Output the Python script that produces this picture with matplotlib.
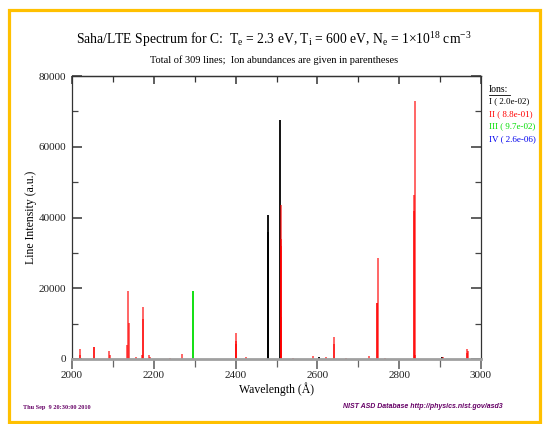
import matplotlib.pyplot as plt
import numpy as np
from matplotlib.lines import Line2D
from matplotlib.patches import Rectangle
from matplotlib.ticker import MultipleLocator

plt.rcParams["font.family"] = ["Liberation Serif", "DejaVu Serif"]
plt.rcParams["mathtext.fontset"] = "custom"
plt.rcParams["mathtext.rm"] = "Liberation Serif"
plt.rcParams["mathtext.it"] = "Liberation Serif:italic"

# line list: wavelength (A), intensity (a.u.), ion stage
wavelengths = [
    2018.5, 2019.4, 2053.5, 2054.2, 2091.0, 2092.0, 2135.2, 2137.5, 2138.3,
    2156.0, 2172.0, 2173.5, 2174.2, 2189.0, 2191.0, 2240.0, 2270.0, 2296.9,
    2400.2, 2401.2, 2402.0, 2425.0, 2478.3, 2478.6, 2509.1, 2509.9, 2510.4,
    2511.4, 2512.1, 2539.6, 2590.0, 2604.0, 2620.0, 2640.3, 2640.9, 2670.0,
    2727.0, 2745.9, 2746.5, 2747.3, 2765.0, 2836.0, 2836.7, 2837.6, 2838.8,
    2904.0, 2908.0, 2965.3, 2966.5, 2967.5,
]
intensities = [
    1200, 2900, 3300, 3300, 2350, 1200, 4000, 19200, 10200,
    600, 1000, 14800, 11300, 1100, 600, 300, 1300, 19200,
    4200, 7400, 5000, 600, 35900, 40700, 67600, 32000, 12000,
    34000, 43500, 400, 850, 500, 650, 6200, 4200, 300,
    850, 15900, 15900, 28500, 400, 41700, 46400, 72900, 1200,
    500, 700, 1700, 2900, 2300,
]
ions = [
    "II", "II", "II", "II", "II", "II", "II", "II", "II",
    "II", "II", "II", "II", "II", "II", "II", "II", "III",
    "II", "II", "II", "II", "I", "I", "I", "II", "II",
    "II", "II", "II", "II", "I", "II", "II", "II", "II",
    "II", "II", "II", "II", "II", "II", "II", "II", "II",
    "I", "II", "II", "II", "II",
]

ion_names = ["I", "II", "III", "IV"]
abundances = ["2.0e-02", "8.8e-01", "9.7e-02", "2.6e-06"]
ion_colors = {"I": "black", "II": "#ff0000", "III": "#00dd00", "IV": "#0000ee"}
ion_alpha = {"I": 1.0, "II": 0.65, "III": 1.0, "IV": 1.0}

W, H = 543, 424
fig = plt.figure(figsize=(W / 100, H / 100), dpi=100)

# orange frame
fig.patches.append(
    Rectangle((8.5 / W, 1 - 422 / H), 531 / W, 412.5 / H, transform=fig.transFigure,
              fill=False, edgecolor="#ffc000", linewidth=2.3)
)

ax = fig.add_axes([72 / W, 1 - 359 / H, 409 / W, 283 / H])

wl = np.array(wavelengths)
inten = np.array(intensities)
ion_arr = np.array(ions)
for ion in ion_names:
    m = ion_arr == ion
    if m.any():
        ax.vlines(wl[m], 0, inten[m], colors=ion_colors[ion], alpha=ion_alpha[ion],
                  linewidth=1.3)

ax.set_xlim(2000, 3000)
ax.set_ylim(0, 80000)
ax.xaxis.set_major_locator(MultipleLocator(200))
ax.xaxis.set_minor_locator(MultipleLocator(100))
ax.yaxis.set_major_locator(MultipleLocator(20000))
ax.yaxis.set_minor_locator(MultipleLocator(10000))

ax.spines["bottom"].set_color("#a0a0a0")
ax.spines["bottom"].set_linewidth(2.0)
for s in ["left", "right", "top"]:
    ax.spines[s].set_color("#333333")
    ax.spines[s].set_linewidth(0.9)

ax.tick_params(axis="y", which="both", direction="in", left=True, right=True,
               color="#444444", labelsize=8, pad=4)
ax.tick_params(axis="y", which="major", length=7, width=1.2)
ax.tick_params(axis="y", which="minor", length=4, width=0.9)
ax.tick_params(axis="x", which="both", direction="out", top=False, bottom=True,
               color="#666666", labelsize=8, pad=2)
ax.tick_params(axis="x", which="major", length=7, width=1.2)
ax.tick_params(axis="x", which="minor", length=6, width=0.9)
for lab in ax.get_yticklabels() + ax.get_xticklabels():
    lab.set_color("#222222")

# top axis: inward ticks, no labels
top = ax.twiny()
top.set_xlim(ax.get_xlim())
top.xaxis.set_major_locator(MultipleLocator(200))
top.xaxis.set_minor_locator(MultipleLocator(100))
top.tick_params(axis="x", which="both", direction="in", top=True, bottom=False,
                labeltop=False, color="#333333")
top.tick_params(axis="x", which="major", length=6, width=1.1)
top.tick_params(axis="x", which="minor", length=4, width=0.9)
top.spines["top"].set_color("#333333")
top.spines["top"].set_linewidth(0.9)
top.spines["bottom"].set_visible(False)
top.spines["left"].set_visible(False)
top.spines["right"].set_visible(False)

ax.set_xlabel("Wavelength (Å)", fontsize=8.5, labelpad=1)
ax.set_ylabel("Line Intensity (a.u.)", fontsize=8.5, labelpad=1)

fig.text(0.505, 1 - 40 / H,
         r"Saha/LTE Spectrum for C:  T$_\mathrm{e}$ = 2.3 eV, T$_\mathrm{i}$ = 600 eV, "
         r"N$_\mathrm{e}$ = 1$\times$10$^{18}$ cm$^{-3}$",
         ha="center", va="center", fontsize=9.8)
fig.text(0.505, 1 - 60 / H,
         "Total of 309 lines;  Ion abundances are given in parentheses",
         ha="center", va="center", fontsize=7.5)

# ion legend
fig.text(489 / W, 1 - 89 / H, "Ions:", ha="left", va="center", fontsize=7)
fig.lines.append(Line2D([489 / W, 510 / W], [1 - 95 / H, 1 - 95 / H],
                        transform=fig.transFigure, color="black", linewidth=0.6))
for i, (name, ab) in enumerate(zip(ion_names, abundances)):
    fig.text(489 / W, 1 - (101 + 12.7 * i) / H, f"{name} ( {ab})", ha="left",
             va="center", fontsize=6.5, color=ion_colors[name])

fig.text(23 / W, 1 - 407 / H, "Thu Sep  9 20:30:00 2010", ha="left", va="center",
         fontsize=4.5, fontweight="bold", color="#660066")
fig.text(503 / W, 1 - 407 / H, "NIST ASD Database http://physics.nist.gov/asd3",
         ha="right", va="center", fontsize=5, fontweight="bold", style="italic",
         color="#660066", family=["Liberation Sans", "DejaVu Sans"])

fig.savefig("out.png", dpi=100)
